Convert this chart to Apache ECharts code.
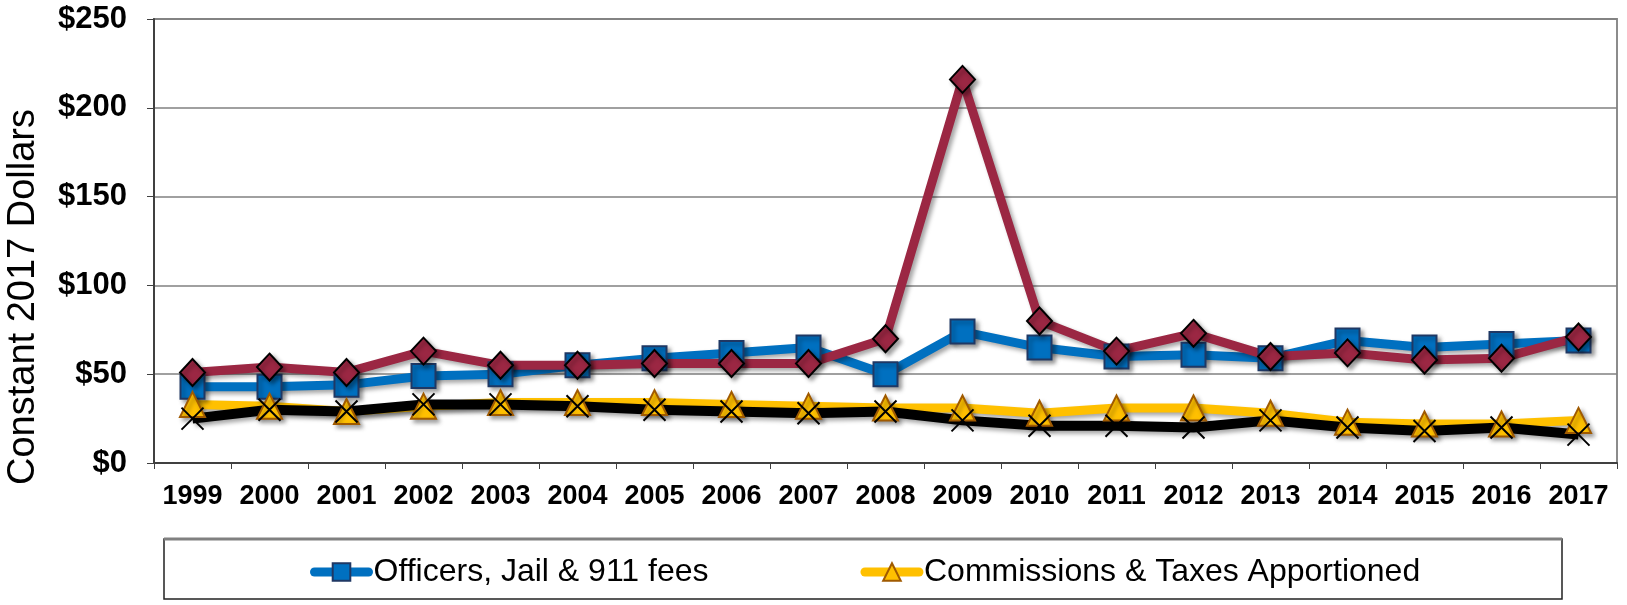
<!DOCTYPE html>
<html>
<head>
<meta charset="utf-8">
<script src="https://cdn.jsdelivr.net/npm/echarts@6/dist/echarts.min.js"></script>
<style>
html,body{margin:0;padding:0;background:#fff;}
#chart{width:1627px;height:605px;}
</style>
</head>
<body>
<div id="chart"></div>
<script>
const categories = ['1999','2000','2001','2002','2003','2004','2005','2006','2007','2008','2009','2010','2011','2012','2013','2014','2015','2016','2017'];
const officersJail911 = [43, 43, 44, 49, 50, 55, 59, 62, 65, 50, 74, 65, 60, 61, 59, 69, 65, 67, 69];
const seriesMaroon = [51, 54, 51, 63, 55, 55, 56, 56, 56, 70, 216, 80, 63, 73, 60, 62, 58, 59, 71];
const commissionsTaxes = [33, 32, 29, 32, 34, 34, 34, 33, 32, 31, 31, 28, 31, 31, 28, 23, 22, 22, 24];
const seriesBlack = [25, 30, 29, 33, 33, 32, 30, 29, 28, 29, 24, 21, 21, 20, 24, 20, 18, 20, 16];
const yTicks = [0, 50, 100, 150, 200, 250];
const yTitle = 'Constant 2017 Dollars';

const FONT = "'Liberation Sans', Arial, sans-serif";
const chart = echarts.init(document.getElementById('chart'));

const G = {left:154, top:19, right:1617, bottom:463};
const W = G.right - G.left, H = G.bottom - G.top;
function strip(x,y,w,h,x1,y1,x2,y2){
  return {type:'rect', z:-1, silent:true, shape:{x:x,y:y,width:w,height:h},
    style:{fill:new echarts.graphic.LinearGradient(x1,y1,x2,y2,[{offset:0,color:'rgba(110,110,110,0.55)'},{offset:1,color:'rgba(255,255,255,0)'}])}};
}
const shadowLine = {shadowBlur:4, shadowColor:'rgba(0,0,0,0.35)', shadowOffsetX:3, shadowOffsetY:3};

chart.setOption({
  animation:false,
  backgroundColor:'#fff',
  grid:{left:G.left, top:G.top, right:1627-G.right, bottom:605-G.bottom, show:true, borderColor:'#8c8c8c', borderWidth:2, backgroundColor:'#fff', containLabel:false, outerBoundsMode:'none'},
  graphic:[
    strip(G.left, G.top, W, 16, 0,0,0,1),
    strip(G.left, G.bottom-14, W, 14, 0,1,0,0),
    strip(G.left, G.top, 16, H, 0,0,1,0),
    strip(G.right-14, G.top, 14, H, 1,0,0,0),
    {type:'rect', z:-2, silent:true, shape:{x:164, y:539, width:1398, height:60}, style:{fill:'#fff', stroke:'#222', lineWidth:1.5}},
    {type:'line', z:-1, silent:true, shape:{x1:164, y1:539, x2:1562, y2:539}, style:{stroke:'#808080', lineWidth:3}},
    {type:'text', x:24, y:297, rotation:Math.PI/2, silent:true,
      style:{text:yTitle, font:"38px 'Liberation Sans', Arial, sans-serif", fill:'#000', align:'center', verticalAlign:'middle'}}
  ],
  legend:{
    data:['Officers, Jail & 911 fees','Commissions & Taxes Apportioned'],
    left:305, top:551, itemWidth:54, itemHeight:22, itemGap:152,
    lineStyle:{width:9, cap:'round'},
    textStyle:{fontFamily:FONT, fontSize:32, color:'#000'}
  },
  xAxis:{
    type:'category', data:categories, boundaryGap:true,
    axisLine:{lineStyle:{color:'#404040', width:2}},
    axisTick:{show:true, length:6, lineStyle:{color:'#404040'}},
    axisLabel:{fontFamily:FONT, fontWeight:'bold', fontSize:27, color:'#000', margin:20, interval:0}
  },
  yAxis:{
    type:'value', min:0, max:250, interval:50,
    axisLine:{show:true, lineStyle:{color:'#404040', width:2}},
    axisTick:{show:true, length:7, lineStyle:{color:'#404040'}},
    splitLine:{show:true, lineStyle:{color:'#808080', width:1.5}},
    axisLabel:{fontFamily:FONT, fontWeight:'bold', fontSize:31, color:'#000', margin:27,
      formatter:function(v){ return yTicks.indexOf(v) >= 0 ? '$' + v : ''; }}
  },
  series:[
    {name:'Officers, Jail & 911 fees', type:'line', data:officersJail911, symbol:'rect', symbolSize:24,
      lineStyle:Object.assign({color:'#0070C0', width:9}, shadowLine),
      itemStyle:Object.assign({color:'#0070C0', borderColor:'#1F3864', borderWidth:2}, shadowLine)},
    {name:'Other Revenue', type:'line', data:seriesMaroon, symbol:'diamond', symbolSize:[25,27],
      lineStyle:Object.assign({color:'#9B2743', width:9}, shadowLine),
      itemStyle:Object.assign({color:'#9B2743', borderColor:'#000', borderWidth:2}, shadowLine)},
    {name:'Commissions & Taxes Apportioned', type:'line', data:commissionsTaxes, symbol:'triangle', symbolSize:25,
      lineStyle:Object.assign({color:'#FFC000', width:9}, shadowLine),
      itemStyle:Object.assign({color:'#FFC000', borderColor:'#A05A00', borderWidth:2}, shadowLine)},
    {name:'Other Fees', type:'line', data:seriesBlack, symbol:'path://M0,0L20,20M20,0L0,20', symbolSize:22,
      lineStyle:Object.assign({color:'#000', width:10}, shadowLine),
      itemStyle:{color:'rgba(0,0,0,0)', borderColor:'#000', borderWidth:2}}
  ]
});
</script>
</body>
</html>
